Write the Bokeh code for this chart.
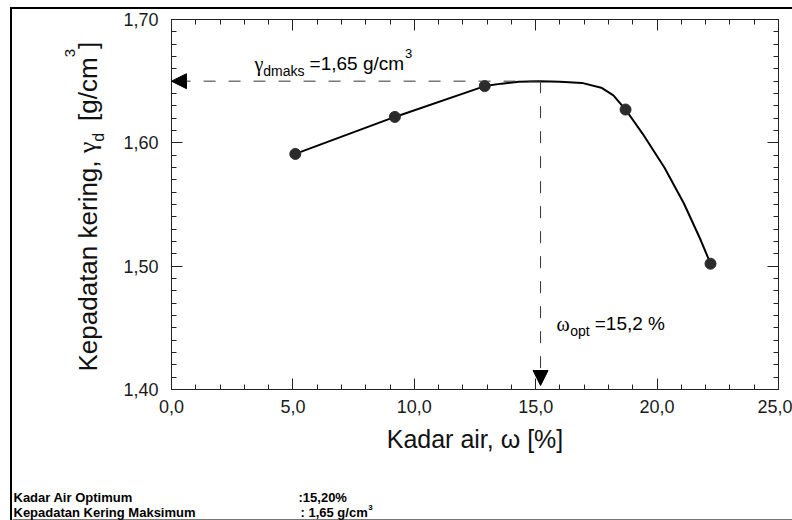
import math
from bokeh.plotting import figure
from bokeh.layouts import column, row
from bokeh.models import (LinearAxis, FixedTicker, CustomJSTickFormatter, Label,
                          Arrow, NormalHead, Range1d, Spacer)
from bokeh.embed import file_html
from bokeh.resources import INLINE

# ---------------- data ----------------
water_content = [5.1, 9.2, 12.9, 18.7, 22.2]
dry_density = [1.591, 1.621, 1.646, 1.627, 1.502]
curve_water = [5.1, 9.2, 12.9, 13.6, 14.3, 15.2, 16.0, 16.9, 17.7, 18.2, 18.7, 19.4, 20.3, 21.1, 21.8, 22.2]
curve_density = [1.591, 1.621, 1.646, 1.648, 1.6495, 1.650, 1.6496, 1.6486, 1.6447, 1.6385, 1.627,
                 1.6075, 1.580, 1.551, 1.521, 1.502]
w_opt = 15.2
gamma_dmax = 1.65
x_limits = [0.0, 25.0]
y_limits = [1.40, 1.70]
x_major = [0, 5, 10, 15, 20, 25]
x_minor = list(range(0, 26))
y_major = [1.40, 1.50, 1.60, 1.70]
y_minor = [round(1.40 + 0.01 * i, 2) for i in range(31)]
x_label = "Kadar air, ω [%]"
summary_names = ["Kadar Air Optimum", "Kepadatan Kering Maksimum"]

# ---------------- layout constants (page pixels) ----------------
FONT = "Liberation Sans"
SERIF = "Liberation Serif"
PAGE_W, PAGE_H = 792, 520
RULE_X0, RULE_W = 10, 2       # left black rule
RULE_Y0, RULE_H = 7, 2        # top black rule
CX0 = RULE_X0 + RULE_W        # content left
CY0 = RULE_Y0 + RULE_H        # content top
LEFT_X1 = 115                 # right edge of the y-title strip
BOT_Y = 470                   # top of the summary strip
FRAME_L, FRAME_R, FRAME_T, FRAME_B = 171, 778, 19, 389

AW = {' ': 278, ',': 278, '.': 278, '=': 584, '%': 889, '[': 278, ']': 278, '/': 278, ':': 278,
      'a': 556, 'b': 556, 'c': 500, 'd': 556, 'e': 556, 'g': 556, 'i': 222, 'k': 500, 'm': 833,
      'n': 556, 'o': 556, 'p': 556, 'r': 333, 's': 500, 't': 278, 'K': 667, 'γ': 440, 'ω': 690}
AWB = {' ': 278, ',': 278, ':': 333, '/': 278, 'g': 611, 'c': 556, 'm': 889, '%': 889}


def tw(s, size, bold=False):
    table = AWB if bold else AW
    return sum(table.get(ch, 556) for ch in s) * size / 1000.0


def free_fig(x0, x1, y0, y1, width, height):
    f = figure(width=width, height=height, x_range=Range1d(x0, x1), y_range=Range1d(y1, y0),
               output_backend="svg", toolbar_location=None, min_border=0, title=None,
               x_axis_location=None, y_axis_location=None)
    f.outline_line_color = None
    f.grid.visible = False
    f.background_fill_color = "white"
    f.border_fill_color = "white"
    return f


# ---------------- main chart ----------------
main_w = PAGE_W - LEFT_X1
main_h = BOT_Y - CY0
p = figure(width=main_w, height=main_h, x_range=Range1d(*x_limits), y_range=Range1d(*y_limits),
           output_backend="svg", toolbar_location=None, title=None,
           x_axis_location=None, y_axis_location=None,
           min_border_left=FRAME_L - LEFT_X1, min_border_right=PAGE_W - FRAME_R,
           min_border_top=FRAME_T - CY0, min_border_bottom=BOT_Y - FRAME_B)
p.grid.visible = False
p.outline_line_color = "#222222"
p.background_fill_color = "white"
p.border_fill_color = "white"


def gx(page_x):
    return x_limits[0] + (page_x - FRAME_L) * (x_limits[1] - x_limits[0]) / (FRAME_R - FRAME_L)


def gy(page_y):
    return y_limits[1] - (page_y - FRAME_T) * (y_limits[1] - y_limits[0]) / (FRAME_B - FRAME_T)


def make_axis(ticks, minor, decimals, labels):
    code = ("return tick.toFixed(%d).replace('.', ',');" % decimals) if labels else "return '';"
    ax = LinearAxis(ticker=FixedTicker(ticks=ticks, minor_ticks=minor),
                    formatter=CustomJSTickFormatter(code=code))
    ax.major_tick_in = 11
    ax.major_tick_out = 0
    ax.minor_tick_in = 5
    ax.minor_tick_out = 0
    ax.axis_line_color = "#222222"
    ax.major_tick_line_color = "#222222"
    ax.minor_tick_line_color = "#222222"
    ax.major_label_text_font = FONT
    ax.major_label_text_font_size = "18px"
    ax.major_label_text_color = "#1a1a1a"
    if not labels:
        ax.major_label_standoff = 0
    return ax


xb = make_axis(x_major, x_minor, 1, True)
xb.major_label_standoff = 10
xb.axis_label = x_label
xb.axis_label_text_font = FONT
xb.axis_label_text_font_size = "25px"
xb.axis_label_text_font_style = "normal"
xb.axis_label_text_color = "#111111"
xb.axis_label_standoff = 9
p.add_layout(xb, "below")
p.add_layout(make_axis(x_major, x_minor, 1, False), "above")
yl = make_axis(y_major, y_minor, 2, True)
yl.major_label_standoff = 13
p.add_layout(yl, "left")
p.add_layout(make_axis(y_major, y_minor, 2, False), "right")

p.line(curve_water, curve_density, line_width=2, color="black")
p.scatter(water_content, dry_density, size=11, color="#2b2b2b")

p.add_layout(Arrow(end=NormalHead(size=15, fill_color="black", line_color="black"),
                   x_start=w_opt, y_start=gamma_dmax, x_end=x_limits[0], y_end=gamma_dmax,
                   line_dash="12 13", line_width=1, line_color="#333333"))
p.add_layout(Arrow(end=NormalHead(size=15, fill_color="black", line_color="black"),
                   x_start=w_opt, y_start=gamma_dmax, x_end=w_opt, y_end=gy(385),
                   line_dash="12 13", line_width=1, line_color="#333333"))


def rich_h(target, conv_x, conv_y, parts, x_page, base_page, bold=False):
    cx = x_page
    for text, size, shift, font, gap in parts:
        cx += gap
        target.add_layout(Label(x=conv_x(cx), y=conv_y(base_page + shift), text=text, text_font=font,
                                text_font_size="%dpx" % size, text_baseline="alphabetic",
                                text_align="left", text_color="black",
                                text_font_style="bold" if bold else "normal"))
        cx += tw(text, size, bold)


g_txt = ("%.2f" % gamma_dmax).replace(".", ",")
w_txt = ("%.1f" % w_opt).replace(".", ",")

rich_h(p, gx, gy, [("γ", 20, 0, SERIF, 0), ("dmaks", 14, 7, FONT, 0), ("=%s g/cm" % g_txt, 19, 0, FONT, 5),
                   ("3", 13, -10, FONT, 1)], 254, 63)
rich_h(p, gx, gy, [("ω", 20, 0, SERIF, 0), ("opt", 14, 7, FONT, 0), ("=%s %%" % w_txt, 19, 0, FONT, 5)],
       556, 323)

# ---------------- left strip: y title (its frame lines up with the chart frame) ----------------
left = free_fig(CX0, LEFT_X1, FRAME_T, FRAME_B, LEFT_X1 - CX0, main_h)
y_parts = [("Kepadatan kering, ", 26, 0, FONT, 0), ("γ", 26, 0, SERIF, 0), ("d", 16, 11, FONT, 0),
           ("[g/cm", 26, 0, FONT, 12), ("3", 15, -18, FONT, 0), ("]", 26, 0, FONT, 0)]
cy = 371
for text, size, shift, font, gap in y_parts:
    cy -= gap
    left.add_layout(Label(x=87 + shift, y=cy, text=text, text_font=font, text_font_size="%dpx" % size,
                          text_baseline="alphabetic", text_align="left", angle=math.pi / 2,
                          text_color="#111111"))
    cy -= tw(text, size)

# ---------------- bottom strip: summary ----------------
bottom = free_fig(CX0, PAGE_W, BOT_Y, PAGE_H, PAGE_W - CX0, PAGE_H - BOT_Y)
bottom.quad(left=[CX0], right=[PAGE_W], top=[518.6], bottom=[PAGE_H], fill_color="#777777", line_color=None)
ident = lambda v: v
rich_h(bottom, ident, ident, [(summary_names[0], 13, 0, FONT, 0)], 13, 497, bold=True)
rich_h(bottom, ident, ident, [(summary_names[1], 13, 0, FONT, 0)], 13, 512, bold=True)
rich_h(bottom, ident, ident, [(":" + ("%.2f" % w_opt).replace(".", ",") + "%", 13, 0, FONT, 0)],
       298, 497, bold=True)
rich_h(bottom, ident, ident, [(": " + g_txt + " g/cm", 13, 0, FONT, 0), ("3", 8, -5, FONT, 0.5)],
       300, 512, bold=True)

# ---------------- page rules ----------------
top_rule = row(Spacer(width=RULE_X0, height=RULE_H),
               Spacer(width=PAGE_W - RULE_X0, height=RULE_H, styles={"background-color": "black"}))
body = row(Spacer(width=RULE_X0, height=PAGE_H - CY0),
           Spacer(width=RULE_W, height=PAGE_H - CY0, styles={"background-color": "black"}),
           column(row(left, p), bottom))
layout = column(Spacer(width=PAGE_W, height=RULE_Y0), top_rule, body)
open("out.html", "w").write(file_html(layout, INLINE))
